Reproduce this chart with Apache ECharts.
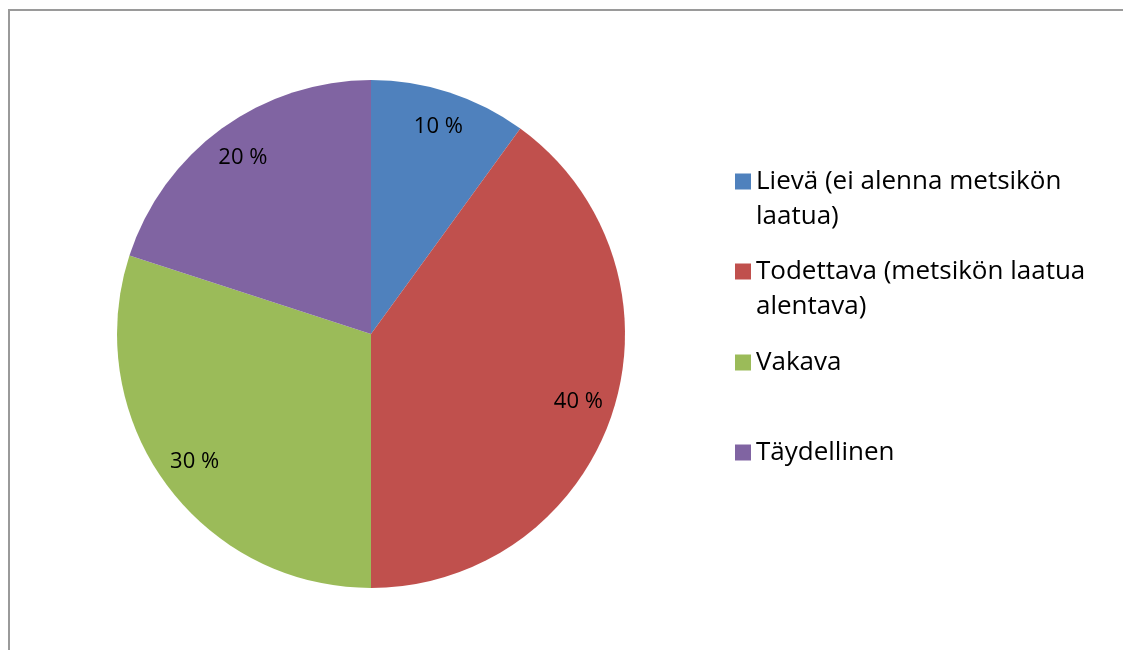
<!DOCTYPE html>
<html>
<head>
<meta charset="utf-8">
<script src="https://cdn.jsdelivr.net/npm/echarts@6/dist/echarts.min.js"></script>
<style>
  body { margin: 0; background: #fff; }
  #chart { width: 1123px; height: 650px; }
  #frame {
    position: absolute; left: 8px; top: 9px; width: 1200px; height: 700px;
    border-left: 2px solid #9a9a9a; border-top: 2px solid #9a9a9a;
    pointer-events: none;
  }
</style>
</head>
<body>
<div id="chart"></div>
<div id="frame"></div>
<script>
// data
var categories = [
  'Lievä (ei alenna metsikön\nlaatua)',
  'Todettava (metsikön laatua\nalentava)',
  'Vakava',
  'Täydellinen'
];
var shares = [10, 40, 30, 20];
var colors = ['#4F81BD', '#C0504D', '#9BBB59', '#8064A2'];

var chart = echarts.init(document.getElementById('chart'));

var pieData = categories.map(function (name, i) {
  return { name: name, value: shares[i], itemStyle: { color: colors[i] } };
});

// one legend per item; two-line items get a taller icon box (square on top)
// so the marker lines up with the first text line
var legendTops = [164, 254, 345, 435];
var legends = categories.map(function (name, i) {
  var twoLines = name.indexOf('\n') >= 0;
  return {
    data: [name],
    orient: 'vertical',
    left: 735,
    top: legendTops[i],
    padding: 0,
    itemWidth: 16,
    itemHeight: twoLines ? 51 : 16,
    icon: twoLines ? 'path://M0,0h16v16h-16z M0,51L0,51' : 'rect',
    selectedMode: false,
    textStyle: {
      fontFamily: 'Open Sans',
      fontSize: 26,
      color: '#000',
      lineHeight: 35
    }
  };
});

var option = {
  backgroundColor: '#fff',
  animation: false,
  legend: legends,
  series: [
    {
      name: 'pie',
      type: 'pie',
      center: [371, 334],
      radius: 254,
      startAngle: 90,
      label: { show: false },
      labelLine: { show: false },
      emphasis: { disabled: true },
      data: pieData
    },
    {
      // transparent ring, only carries the percentage labels
      name: 'labels',
      type: 'pie',
      center: [371, 334],
      radius: [176, 254],
      startAngle: 90,
      silent: true,
      itemStyle: { color: 'rgba(0,0,0,0)' },
      emphasis: { disabled: true },
      label: {
        show: true,
        position: 'inside',
        formatter: '{c} %',
        fontFamily: 'Open Sans',
        fontSize: 22,
        color: '#000'
      },
      labelLine: { show: false },
      data: categories.map(function (name, i) {
        return { name: name, value: shares[i] };
      })
    }
  ]
};

chart.setOption(option);
</script>
</body>
</html>
